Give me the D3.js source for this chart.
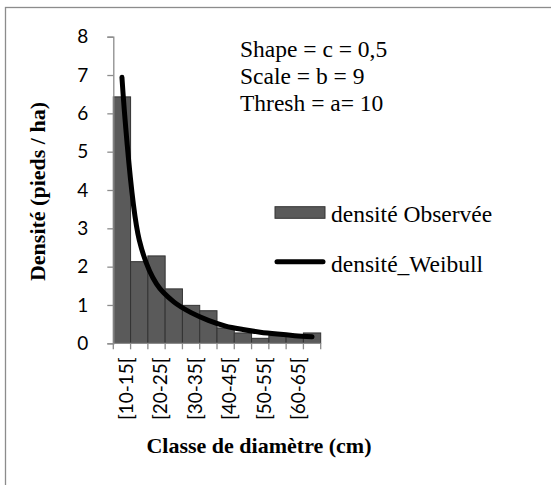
<!DOCTYPE html>
<html>
<head>
<meta charset="utf-8">
<script src="https://cdn.jsdelivr.net/npm/d3@7.9.0/dist/d3.min.js"></script>
<style>
  body { margin: 0; background: #fff; }
  svg { display: block; }
</style>
</head>
<body>
<svg id="chart"></svg>
<script>
// diameter classes (cm)
const classes = ['[10-15[', '[15-20[', '[20-25[', '[25-30[', '[30-35[', '[35-40[',
                 '[40-45[', '[45-50[', '[50-55[', '[55-60[', '[60-65[', '[65-70['];
// observed density per class
const observed = [6.43, 2.13, 2.28, 1.42, 0.99, 0.85, 0.40, 0.27, 0.13, 0.20, 0.18, 0.27];
// fitted Weibull density at class centres
const weibull = [6.94, 2.70, 1.55, 1.08, 0.80, 0.60, 0.45, 0.36, 0.29, 0.24, 0.20, 0.17];
const yTicks = [0, 1, 2, 3, 4, 5, 6, 7, 8];
const params = ['Shape = c = 0,5', 'Scale = b = 9', 'Thresh = a= 10'];
const legendLabels = ['densité Observée', 'densité_Weibull'];

const width = 551;
const height = 485;
const plot = { left: 113.3, right: 320.7, top: 36.7, bottom: 343.3 };
const serif = '"Liberation Serif", "Times New Roman", serif';
const sans = 'Lato, "Open Sans", sans-serif';
const axisGrey = '#8c8c8c';

const svg = d3.select('#chart')
  .attr('width', width)
  .attr('height', height);

// chart frame
svg.append('rect')
  .attr('x', 5.5).attr('y', 7.5)
  .attr('width', 560).attr('height', 500)
  .attr('fill', '#fff')
  .attr('stroke', axisGrey)
  .attr('stroke-width', 1.3);

const x = d3.scaleBand()
  .domain(classes)
  .range([plot.left, plot.right])
  .padding(0);

const y = d3.scaleLinear()
  .domain([0, 8])
  .range([plot.bottom, plot.top]);

// bars
svg.append('g')
  .selectAll('rect')
  .data(observed)
  .join('rect')
    .attr('x', (d, i) => x(classes[i]))
    .attr('y', d => y(d))
    .attr('width', x.bandwidth())
    .attr('height', d => y(0) - y(d))
    .attr('fill', '#5a5a5a')
    .attr('stroke', '#333')
    .attr('stroke-width', 1);

// y axis
const yAxis = svg.append('g')
  .attr('transform', `translate(${plot.left}, 0)`)
  .call(d3.axisLeft(y).tickValues(yTicks).tickSize(6).tickPadding(19));
yAxis.select('.domain').attr('stroke', axisGrey).attr('stroke-width', 1.3);
yAxis.selectAll('.tick line').attr('stroke', axisGrey).attr('stroke-width', 1.3);
yAxis.selectAll('.tick text')
  .attr('font-family', sans)
  .attr('font-size', 19)
  .attr('fill', '#000');

// x axis: ticks on class boundaries, every other label
const xAxis = svg.append('g')
  .attr('transform', `translate(0, ${plot.bottom})`);
xAxis.append('line')
  .attr('x1', plot.left).attr('x2', plot.right)
  .attr('stroke', axisGrey).attr('stroke-width', 1.3);
xAxis.selectAll('.tick-mark')
  .data(d3.range(classes.length + 1))
  .join('line')
    .attr('class', 'tick-mark')
    .attr('x1', i => plot.left + i * x.bandwidth())
    .attr('x2', i => plot.left + i * x.bandwidth())
    .attr('y1', 0).attr('y2', 6)
    .attr('stroke', axisGrey).attr('stroke-width', 1.3);
xAxis.selectAll('.tick-label')
  .data(classes.filter((c, i) => i % 2 === 0))
  .join('text')
    .attr('class', 'tick-label')
    .attr('transform', d => `translate(${x(d) + x.bandwidth() / 2 + 4}, 14) rotate(-90)`)
    .attr('dy', '0.35em')
    .attr('text-anchor', 'end')
    .attr('font-family', sans)
    .attr('font-size', 19)
    .text(d => d);

// fitted curve through class centres
const line = d3.line()
  .x((d, i) => x(classes[i]) + x.bandwidth() / 2)
  .y(d => y(d))
  .curve(d3.curveCatmullRom.alpha(0.5));

svg.append('path')
  .datum(weibull)
  .attr('fill', 'none')
  .attr('stroke', '#000')
  .attr('stroke-width', 5)
  .attr('stroke-linecap', 'round')
  .attr('stroke-linejoin', 'round')
  .attr('d', line);

// parameter annotation
svg.append('g')
  .selectAll('text')
  .data(params)
  .join('text')
    .attr('x', 240)
    .attr('y', (d, i) => 57.3 + i * 27)
    .attr('font-family', serif)
    .attr('font-size', 23.5)
    .text(d => d);

// legend
const legend = svg.append('g');
legend.append('rect')
  .attr('x', 275).attr('y', 206.7)
  .attr('width', 50).attr('height', 11.6)
  .attr('fill', '#5a5a5a')
  .attr('stroke', '#333')
  .attr('stroke-width', 1);
legend.append('line')
  .attr('x1', 277).attr('x2', 323)
  .attr('y1', 261.7).attr('y2', 261.7)
  .attr('stroke', '#000')
  .attr('stroke-width', 5)
  .attr('stroke-linecap', 'round');
legend.selectAll('text')
  .data(legendLabels)
  .join('text')
    .attr('x', 331)
    .attr('y', (d, i) => 221.7 + i * 50)
    .attr('font-family', serif)
    .attr('font-size', 23.5)
    .text(d => d);

// axis titles
svg.append('text')
  .attr('transform', 'translate(45, 191.5) rotate(-90)')
  .attr('text-anchor', 'middle')
  .attr('font-family', serif)
  .attr('font-weight', 'bold')
  .attr('font-size', 22)
  .text('Densité (pieds / ha)');

svg.append('text')
  .attr('x', 259)
  .attr('y', 453)
  .attr('text-anchor', 'middle')
  .attr('font-family', serif)
  .attr('font-weight', 'bold')
  .attr('font-size', 22)
  .text('Classe de diamètre (cm)');
</script>
</body>
</html>
